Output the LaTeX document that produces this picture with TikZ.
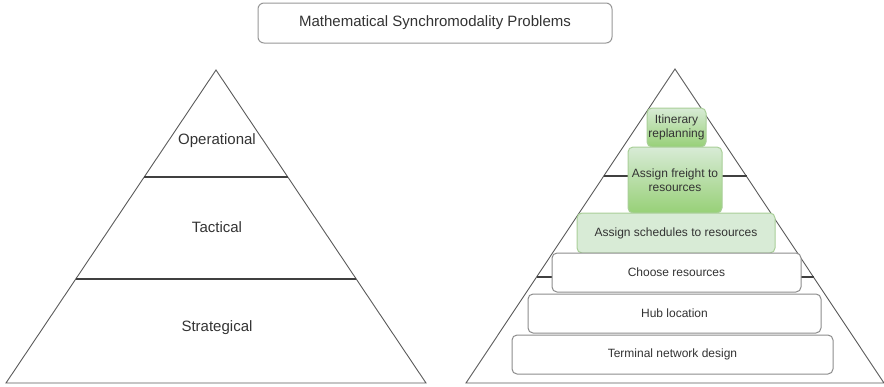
\documentclass[tikz,border=0pt]{standalone}
\usepackage{fontspec}
\setmainfont{Liberation Sans}
\definecolor{txt}{HTML}{333333}
\definecolor{edge}{HTML}{5A5A5A}
\definecolor{boxgray}{HTML}{8C8C8C}
\definecolor{gtop}{HTML}{D8EBD6}
\definecolor{gbot}{HTML}{97D077}
\definecolor{gstroke}{HTML}{A9CF98}
\tikzset{
  box/.style={draw=boxgray, line width=1pt, rounded corners=5pt, fill=white, text=txt,
    font=\fontsize{12}{14}\selectfont, align=center, inner sep=0pt},
  greenbox/.style={box, draw=gstroke, top color=gtop, bottom color=gbot},
  palebox/.style={box, draw=gstroke, fill=gtop},
  lvl/.style={text=txt, font=\fontsize{15}{18}\selectfont},
  pyr/.style={draw=edge, line width=0.9pt, line join=miter},
  divider/.style={draw=black!75, line width=1.4pt}
}
\begin{document}
\begin{tikzpicture}[x=1pt,y=-1pt]
\useasboundingbox (0,0) rectangle (884,386);
% title
\node[box, draw=boxgray!90, rounded corners=6pt, minimum width=354pt, minimum height=40pt,
  font=\fontsize{15}{18}\selectfont] (title) at (435,23) {Mathematical Synchromodality Problems};
% left pyramid
\coordinate (LA) at (216,70);
\coordinate (LL) at (6,383);
\coordinate (LR) at (426,383);
\draw[pyr] (LA) -- (LL) -- (LR) -- cycle;
\coordinate (L1a) at (144,177); \coordinate (L1b) at (288,177);
\coordinate (L2a) at (76,279); \coordinate (L2b) at (356,279);
\draw[divider] (L1a) -- (L1b);
\draw[divider] (L2a) -- (L2b);
\node[lvl] (op) at (217,141) {Operational};
\node[lvl] (tac) at (217,227) {Tactical};
\node[lvl] (str) at (217,328) {Strategical};
% right pyramid
\coordinate (RA) at (675,69);
\coordinate (RL) at (466,383);
\coordinate (RR) at (884,383);
\draw[pyr] (RA) -- (RL) -- (RR) -- cycle;
\coordinate (R1a) at (604,176); \coordinate (R1b) at (747,176);
\coordinate (R2a) at (537,277); \coordinate (R2b) at (814,277);
\draw[divider] (R1a) -- (R1b);
\draw[divider] (R2a) -- (R2b);
% boxes
\node[greenbox, minimum width=59pt, minimum height=39pt] (itin) at (676.5,127.5) {Itinerary\\replanning};
\node[greenbox, minimum width=94pt, minimum height=66pt] (freight) at (675,180) {Assign freight to\\resources};
\node[palebox, minimum width=198pt, minimum height=40pt] (sched) at (676,233) {Assign schedules to resources};
\node[box, minimum width=249pt, minimum height=39pt] (choose) at (676.5,272.5) {Choose resources};
\node[box, minimum width=293pt, minimum height=39pt] (hub) at (674.5,313.5) {Hub location};
\node[box, minimum width=321pt, minimum height=39pt] (term) at (672.5,354.5) {Terminal network design};
\end{tikzpicture}
\end{document}
